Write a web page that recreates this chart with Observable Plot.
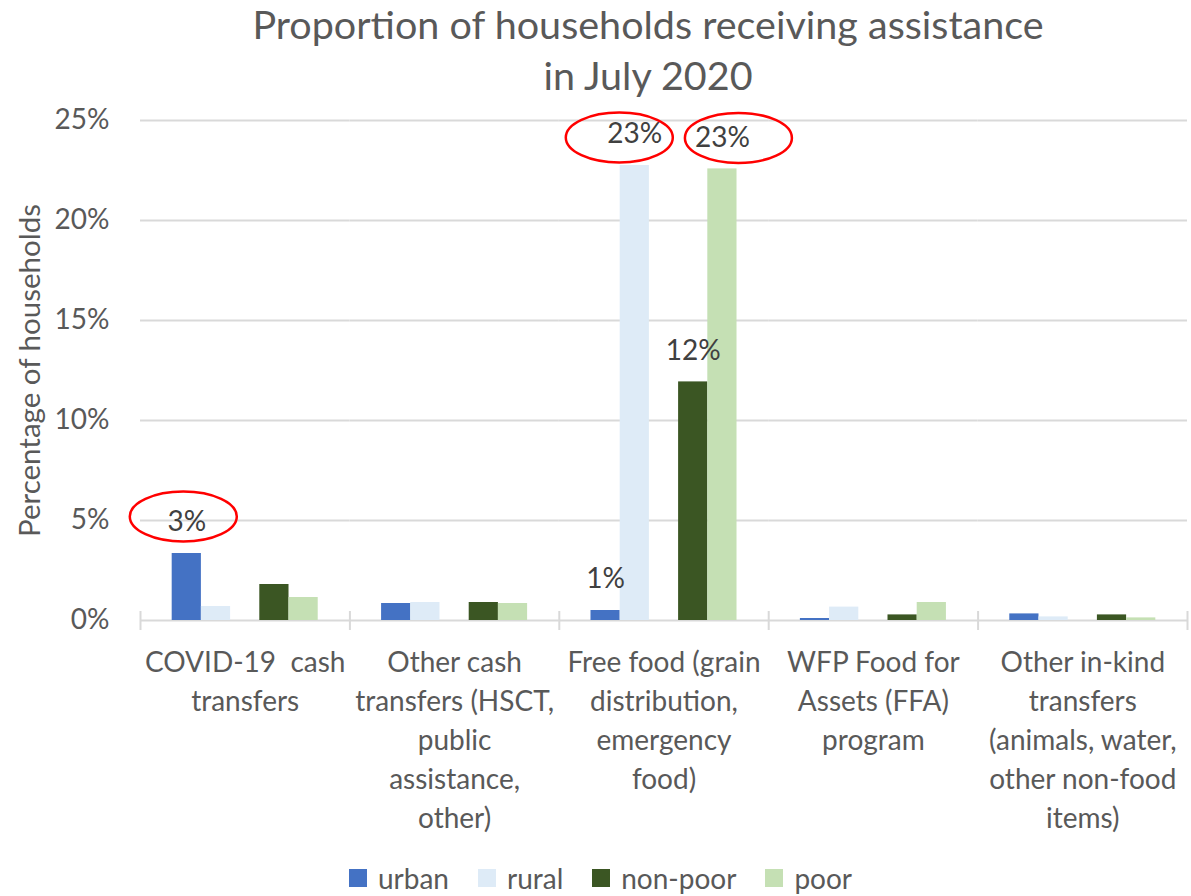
<!DOCTYPE html>
<html>
<head>
<meta charset="utf-8">
<script src="https://cdn.jsdelivr.net/npm/d3@7"></script>
<script src="https://cdn.jsdelivr.net/npm/@observablehq/plot@0.6"></script>
<style>
  body { margin: 0; background: #fff; font-family: Lato, sans-serif; }
  #title { width: 1191px; box-sizing: border-box; padding-left: 105px; text-align: center;
           font-size: 39.5px; line-height: 51px; color: #595959; margin-top: -2px; height: 102px; }
  #legend { width: 1191px; box-sizing: border-box; padding-left: 10px; margin-top: 1px;
            display: flex; justify-content: center; }
  .lg-swatches { margin: 0 !important; justify-content: center; min-height: 30px !important; }
  .lg-swatch { margin-right: 29px !important; }
  .lg-swatch:last-child { margin-right: 0 !important; }
  .lg-swatch > svg { margin-right: 11px !important; }
</style>
</head>
<body>
<div id="title">Proportion of households receiving assistance<br>in July 2020</div>
<div id="chart"></div>
<div id="legend"></div>
<script>
// ---- data ----
const categories = [
  "COVID-19 cash transfers",
  "Other cash transfers (HSCT, public assistance, other)",
  "Free food (grain distribution, emergency food)",
  "WFP Food for Assets (FFA) program",
  "Other in-kind transfers (animals, water, other non-food items)"
];
const categoryTickLabels = [
  "COVID-19  cash\ntransfers",
  "Other cash\ntransfers (HSCT,\npublic\nassistance,\nother)",
  "Free food (grain\ndistribution,\nemergency\nfood)",
  "WFP Food for\nAssets (FFA)\nprogram",
  "Other in-kind\ntransfers\n(animals, water,\nother non-food\nitems)"
];
const seriesNames = ["urban", "rural", "non-poor", "poor"];
const urban   = [3.35, 0.85, 0.5,   0.1,  0.33];
const rural   = [0.7,  0.9,  22.75, 0.67, 0.18];
const nonPoor = [1.8,  0.9,  11.93, 0.28, 0.28];
const poor    = [1.15, 0.85, 22.58, 0.9,  0.13];
const yTicks = [0, 5, 10, 15, 20, 25];
const labelledBars = [[0, "urban"], [2, "urban"], [2, "rural"], [2, "non-poor"], [2, "poor"]];
const circledBars = [[0, "urban"], [2, "rural"], [2, "poor"]];

// ---- styles / layout ----
const colors = ["#4472C4", "#DEEBF7", "#3B5623", "#C5E0B4"];
const ellipseOffsets = [[-3.5, -37], [-15.5, -28], [16, -31]];
const W = 1191, ML = 140, MR = 4;
const bw = (W - ML - MR) / categories.length;

const valuesBySeries = [urban, rural, nonPoor, poor];
const rows = seriesNames.flatMap((s, si) =>
  categories.map((c, ci) => ({category: c, series: s, value: valuesBySeries[si][ci]})));
const find = ([ci, s]) => rows.find(r => r.category === categories[ci] && r.series === s);
const labelRows = labelledBars.map(find);
const circledRows = circledBars.map(find);

const ellipse = {
  draw(ctx, size) {
    const rx = Math.sqrt(size / Math.PI), ry = rx * 0.467, k = 0.5523;
    ctx.moveTo(rx, 0);
    ctx.bezierCurveTo(rx, ry * k, rx * k, ry, 0, ry);
    ctx.bezierCurveTo(-rx * k, ry, -rx, ry * k, -rx, 0);
    ctx.bezierCurveTo(-rx, -ry * k, -rx * k, -ry, 0, -ry);
    ctx.bezierCurveTo(rx * k, -ry, rx, -ry * k, rx, 0);
    ctx.closePath();
  }
};

const chart = Plot.plot({
  width: W, height: 760,
  marginTop: 20, marginBottom: 240, marginLeft: ML, marginRight: MR,
  style: {fontFamily: "Lato, sans-serif", color: "#595959", background: "#fff", overflow: "visible"},
  fx: {domain: categories, padding: 0, round: false, axis: null, label: null},
  x: {domain: ["urban", "rural", "gap", "non-poor", "poor"], paddingInner: 0, paddingOuter: 1.085, round: false, axis: null},
  y: {domain: [0, 25], axis: null, label: null},
  color: {domain: seriesNames, range: colors},
  marks: [
    Plot.gridY(yTicks, {stroke: "#d9d9d9", strokeOpacity: 1, strokeWidth: 2}),
    Plot.axisFx({anchor: "bottom", tickSize: 19, dy: -9, dx: -bw / 2, tickFormat: () => "",
                 stroke: "#d9d9d9", strokeWidth: 2, label: null}),
    Plot.axisFx({anchor: "bottom", ticks: [categories[categories.length - 1]], tickSize: 19, dy: -9, dx: bw / 2,
                 tickFormat: () => "", stroke: "#d9d9d9", strokeWidth: 2, label: null}),
    Plot.barY(rows, {fx: "category", x: "series", y: "value", fill: "series"}),
    Plot.axisFx({anchor: "bottom", tickSize: 0, tickPadding: 24, label: null,
                 tickFormat: d => categoryTickLabels[categories.indexOf(d)],
                 fontSize: 28, lineHeight: 1.39, fill: "#595959"}),
    Plot.axisY(yTicks, {anchor: "left", tickSize: 0, tickPadding: 31, tickFormat: d => d + "%",
                        fontSize: 28, fill: "#595959", label: null}),
    Plot.axisY({anchor: "left", ticks: [], tickSize: 0, fontSize: 29.5, fill: "#595959",
                label: "Percentage of households", labelAnchor: "center", labelOffset: 121, labelArrow: false}),
    Plot.text(labelRows, {fx: "category", x: "series", y: "value",
                          text: d => `${Math.round(d.value)}%`, dy: -31, fontSize: 28, fill: "#404040"}),
    ...circledRows.map((d, i) => Plot.dot([d], {fx: "category", x: "series", y: "value",
        r: 53.5, symbol: ellipse, stroke: "#ff0000", strokeWidth: 2.5, fill: "none",
        dx: ellipseOffsets[i][0], dy: ellipseOffsets[i][1]}))
  ]
});
document.getElementById("chart").appendChild(chart);

const legend = Plot.legend({
  color: {domain: seriesNames, range: colors},
  legend: "swatches", swatchSize: 18, className: "lg",
  style: {fontFamily: "Lato, sans-serif", fontSize: "28px", color: "#595959"}
});
document.getElementById("legend").appendChild(legend);
</script>
</body>
</html>
